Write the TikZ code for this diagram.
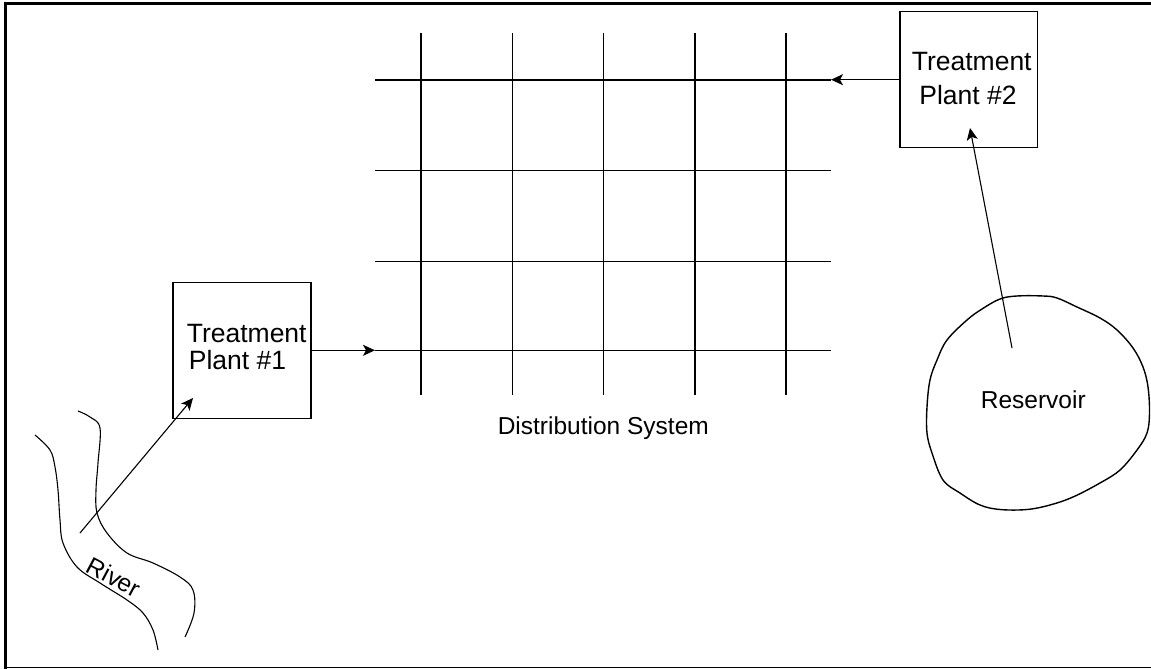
\documentclass[tikz,border=0pt]{standalone}
\usepackage{fontspec}
\setmainfont{Liberation Sans}
\usetikzlibrary{arrows.meta}
\begin{document}
\begin{tikzpicture}[x=1pt,y=-1pt, line width=1.4pt,
  arr/.style={-{Stealth[length=12pt,width=11pt,inset=3pt]}},
  lbl/.style={font=\fontsize{24.5}{28}\selectfont, inner sep=0pt},
  plbl/.style={font=\fontsize{26.5}{30}\selectfont, inner sep=0pt},
  box/.style={draw, line width=1.4pt, inner sep=0pt},
  bank/.style={line width=1.1pt}]
\useasboundingbox (0,0) rectangle (1151,669);
% frame
\draw[line width=3pt] (5.5,669) -- (5.5,3.5) -- (1151,3.5);
\draw[line width=1.5pt] (4,667.5) -- (1151,667.5);
% distribution grid
\foreach \x in {421,512.3,603.5,694.8,786} \draw (\x,33) -- (\x,395);
\foreach \y in {80,170.7,261.3,350.5} \draw (375,\y) -- (831,\y);
\coordinate (g1) at (375,350.3);
\coordinate (g2) at (831,79.7);
% plants
\node[box, minimum width=138pt, minimum height=136pt] (p1) at (242,350.3) {};
\node[box, minimum width=137.3pt, minimum height=136pt] (p2) at (968.7,79.7) {};
\node[plbl] (t1a) at (246.7,333.5) {Treatment};
\node[plbl] (t1b) at (237.5,360) {Plant \#1};
\node[plbl] (t2a) at (971.7,62) {Treatment};
\node[plbl] (t2b) at (968,95.5) {Plant \#2};
\node[lbl] (ds) at (603.3,428.3) {Distribution System};
% reservoir
\draw plot[smooth cycle, tension=0.6] coordinates {(1000,299) (1017,296) (1043,296) (1057,298) (1077,307) (1100,318) (1117,330) (1133,348) (1143,367) (1148,387) (1149.5,413) (1147,433) (1137,450) (1120,470) (1100,483) (1073,497) (1050,505) (1027,509.5) (1000,509.5) (980,505) (960,493) (943,480) (932,453) (927,433) (927,407) (930,380) (937,360) (947,340) (967,320) (982,309)};
\node[lbl] (res) at (1033.3,400) {Reservoir};
% river
\draw[bank] plot[smooth, tension=0.6] coordinates {(35,435) (50,450) (55,467) (58,490) (60,520) (63,543) (77,567) (100,583) (127,600) (143,613) (153,630) (158,650)};
\draw[bank] plot[smooth, tension=0.6] coordinates {(78,411) (90,417) (100,428) (98,463) (96,490) (97,513) (107,533) (127,553) (153,563) (180,577) (193,590) (194,613) (185,637)};
\node[lbl, rotate=-28] (riv) at (114,577) {River};
% connectors
\coordinate (rv) at (80,533);
\coordinate (p1in) at (193,398);
\coordinate (rs) at (1012,348);
\coordinate (p2in) at (970,128);
\draw[arr, line width=1.1pt] (rv) -- (p1in);
\draw[arr, line width=1.1pt] (rs) -- (p2in);
\draw[arr] (p1.east) -- (g1);
\draw[arr] (p2.west) -- (g2);
\end{tikzpicture}
\end{document}
